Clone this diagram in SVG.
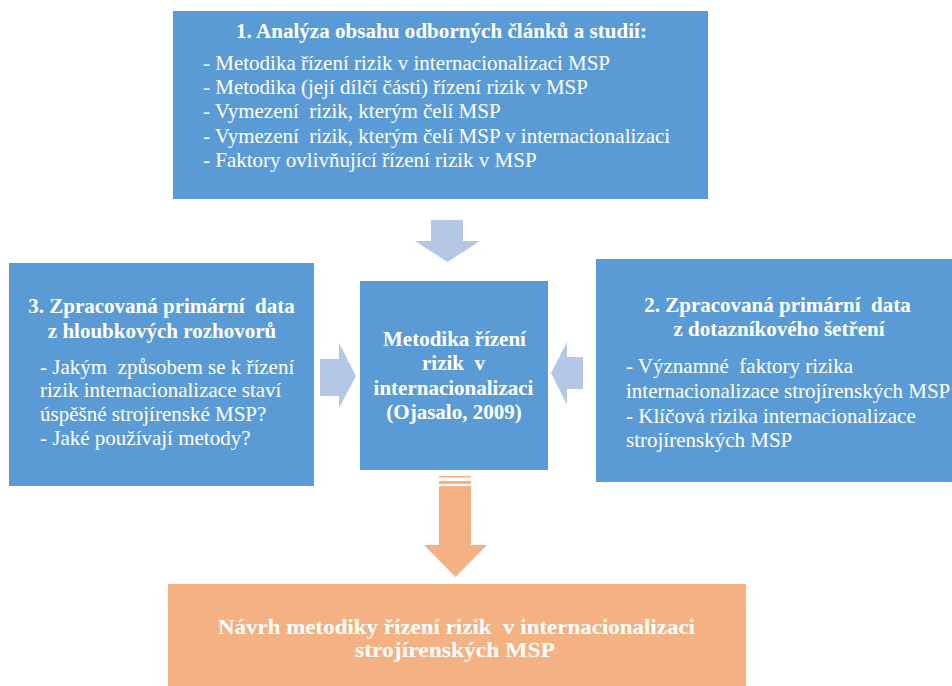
<svg xmlns="http://www.w3.org/2000/svg" width="952" height="686" viewBox="0 0 952 686">
<style>
.box{fill:#5B9BD5}
.obox{fill:#F4B183}
.arr{fill:#B4C7E7}
.oarr{fill:#F4B183}
.t{font-family:'Liberation Serif','Times New Roman','DejaVu Serif',serif;fill:#ffffff;font-size:21px}
.b{font-weight:bold}
.c{text-anchor:middle}
</style>
<rect width="952" height="686" fill="#ffffff"/>
<g id="connectors">
<polygon class="arr" points="431,220 463,220 463,241 480,241 447.5,262 415,241 431,241"/>
<polygon class="arr" points="320,359 339,359 339,343 356,376 339,408 339,396 320,396"/>
<polygon class="arr" points="583,357 567,357 567,342 551,373 567,405 567,389 583,389"/>
<g class="oarr">
<rect x="439" y="476" width="32" height="1.5"/>
<rect x="439" y="481" width="32" height="3"/>
<polygon points="439,486 471,486 471,545 487,545 455.5,577 424,545 439,545"/>
</g>
</g>
<g id="node1" class="t" font-family="Liberation Serif, DejaVu Serif, serif">
<rect class="box" x="173" y="11" width="535" height="188"/>
<text class="b c" x="441.5" y="38" textLength="411">1. Analýza obsahu odborných článků a studií:</text>
<text x="203" y="70">- Metodika řízení rizik v internacionalizaci MSP</text>
<text x="203" y="94">- Metodika (její dílčí části) řízení rizik v MSP</text>
<text x="203" y="118" xml:space="preserve">- Vymezení  rizik, kterým čelí MSP</text>
<text x="203" y="143" xml:space="preserve">- Vymezení  rizik, kterým čelí MSP v internacionalizaci</text>
<text x="203" y="167">- Faktory ovlivňující řízení rizik v MSP</text>
</g>
<g id="node3" class="t" font-family="Liberation Serif, DejaVu Serif, serif">
<rect class="box" x="9" y="263" width="305" height="223"/>
<text class="b c" x="161.5" y="313" xml:space="preserve">3. Zpracovaná primární  data</text>
<text class="b c" x="162" y="338">z hloubkových rozhovorů</text>
<text x="40" y="374" xml:space="preserve">- Jakým  způsobem se k řízení</text>
<text x="40" y="397">rizik internacionalizace staví</text>
<text x="40" y="421">úspěšné strojírenské MSP?</text>
<text x="40" y="445">- Jaké používají metody?</text>
</g>
<g id="node2" class="t" font-family="Liberation Serif, DejaVu Serif, serif">
<rect class="box" x="596" y="259" width="356" height="223"/>
<text class="b c" x="777.5" y="312" xml:space="preserve">2. Zpracovaná primární  data</text>
<text class="b c" x="779" y="336">z dotazníkového šetření</text>
<text x="626" y="373" xml:space="preserve">- Významné  faktory rizika</text>
<text x="626" y="398">internacionalizace strojírenských MSP</text>
<text x="626" y="423">- Klíčová rizika internacionalizace</text>
<text x="626" y="447">strojírenských MSP</text>
</g>
<g id="center" class="t" font-family="Liberation Serif, DejaVu Serif, serif">
<rect class="box" x="360" y="281" width="188" height="189"/>
<text class="b c" x="454.5" y="346">Metodika řízení</text>
<text class="b c" x="453.5" y="370" xml:space="preserve">rizik  v</text>
<text class="b c" x="453.5" y="395">internacionalizaci</text>
<text class="b c" x="454" y="419">(Ojasalo, 2009)</text>
</g>
<g id="result" class="t" font-family="Liberation Serif, DejaVu Serif, serif">
<rect class="obox" x="168" y="584" width="578" height="102"/>
<text class="b c" x="456.5" y="634" textLength="477" lengthAdjust="spacingAndGlyphs" xml:space="preserve">Návrh metodiky řízení rizik  v internacionalizaci</text>
<text class="b c" x="455" y="657" textLength="200" lengthAdjust="spacingAndGlyphs">strojírenských MSP</text>
</g>
</svg>
